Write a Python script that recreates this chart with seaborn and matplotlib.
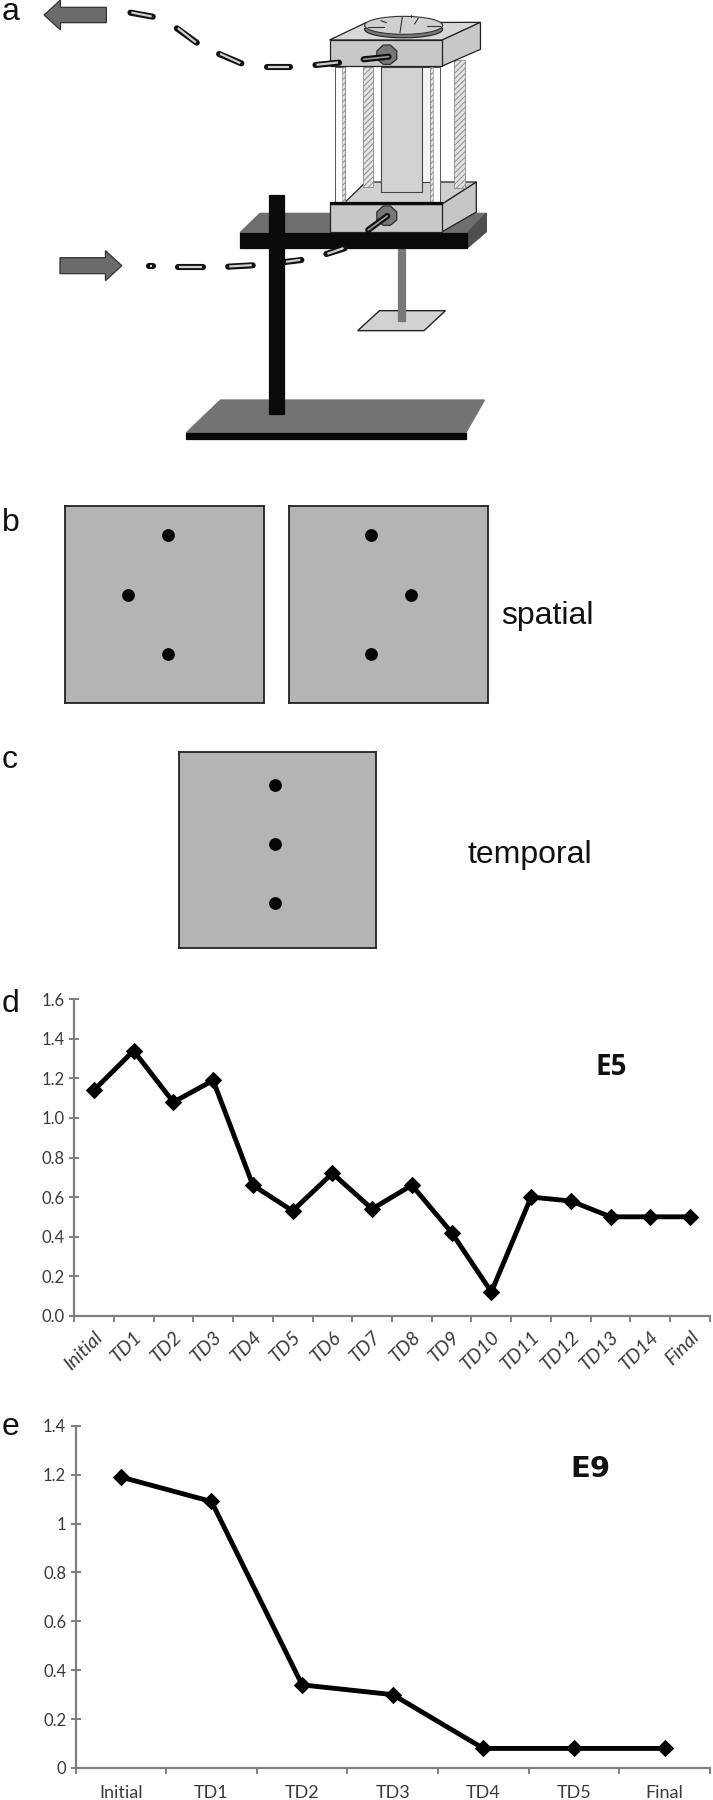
import numpy as np
import pandas as pd
import matplotlib
matplotlib.use("Agg")
import matplotlib.pyplot as plt
from matplotlib.patches import Polygon, Rectangle, Ellipse
import seaborn as sns

sns.set_theme(style="white")

# ---- data ----
cats_d = ["Initial", "TD1", "TD2", "TD3", "TD4", "TD5", "TD6", "TD7", "TD8", "TD9",
          "TD10", "TD11", "TD12", "TD13", "TD14", "Final"]
vals_d = [1.14, 1.34, 1.08, 1.19, 0.66, 0.53, 0.72, 0.54, 0.66, 0.42,
          0.12, 0.60, 0.58, 0.50, 0.50, 0.50]
yticks_d = [0.0, 0.2, 0.4, 0.6, 0.8, 1.0, 1.2, 1.4, 1.6]
ylabels_d = ["0.0", "0.2", "0.4", "0.6", "0.8", "1.0", "1.2", "1.4", "1.6"]

cats_e = ["Initial", "TD1", "TD2", "TD3", "TD4", "TD5", "Final"]
vals_e = [1.19, 1.09, 0.34, 0.30, 0.08, 0.08, 0.08]
yticks_e = [0, 0.2, 0.4, 0.6, 0.8, 1.0, 1.2, 1.4]
ylabels_e = ["0", "0.2", "0.4", "0.6", "0.8", "1", "1.2", "1.4"]

spatial1_x = [0.517, 0.317, 0.517]
spatial1_y = [0.85, 0.548, 0.25]
spatial2_x = [0.413, 0.614, 0.413]
spatial2_y = [0.85, 0.548, 0.25]
temporal_x = [0.487, 0.487, 0.487]
temporal_y = [0.83, 0.53, 0.23]

W, H = 713, 1800
fig = plt.figure(figsize=(W / 100, H / 100), dpi=100, facecolor="white")
SANS = "Liberation Sans"
CHART = "Lato"
GREY = "#7f7f7f"
TXT = "#3a3a3a"


def axbox(x0, y0, x1, y1, **kw):
    return fig.add_axes([x0 / W, 1 - y1 / H, (x1 - x0) / W, (y1 - y0) / H], **kw)


# ---- overlay for panel a (schematic) and panel letters ----
ov = axbox(0, 0, W, H)
ov.set_xlim(0, W)
ov.set_ylim(H, 0)
ov.axis("off")
ov.patch.set_alpha(0)


def Z(pts):
    return [(x / 2.2, y / 3) for x, y in pts]


def poly(pts, fc, ec="#222222", lw=0.9, z=2, **kw):
    ov.add_patch(Polygon(Z(pts), closed=True, facecolor=fc, edgecolor=ec, linewidth=lw, zorder=z, **kw))


def rect(x0, y0, x1, y1, fc, ec="#222222", lw=0.9, z=2, **kw):
    poly([(x0, y0), (x1, y0), (x1, y1), (x0, y1)], fc, ec, lw, z, **kw)


def dash(x0, y0, x1, y1, z=6):
    (a, b), (c, d) = Z([(x0, y0), (x1, y1)])
    ov.plot([a, c], [b, d], color="#111111", lw=4.4, solid_capstyle="round", zorder=z)
    ov.plot([a + 1, c - 1], [b - 0.2, d - 0.2], color="#d0d0d0", lw=1.6, solid_capstyle="butt", zorder=z + 0.1)


plt.rcParams["hatch.linewidth"] = 0.7
# base
poly([(410, 1298), (485, 1200), (1066, 1200), (1025, 1298)], "#737373", "#737373", z=1)
rect(410, 1298, 1025, 1318, "#0a0a0a", "#0a0a0a", z=1)
# hanging rod and plate
poly([(787, 992), (835, 932), (980, 932), (933, 992)], "#d2d2d2", "#222222", lw=1.0, z=1)
rect(876, 748, 890, 962, "#777777", "#777777", z=1.5)
# table
poly([(528, 698), (572, 640), (1070, 640), (1028, 698)], "#6e6e6e", "#6e6e6e", z=2)
poly([(1028, 698), (1070, 640), (1070, 695), (1028, 744)], "#4f4f4f", "#4f4f4f", z=2)
rect(528, 698, 1028, 744, "#0a0a0a", "#0a0a0a", z=3)
# lower block
poly([(758, 608), (805, 546), (1048, 546), (973, 612)], "#d0d0d0", z=2.5)
poly([(973, 612), (1048, 546), (1048, 636), (973, 695)], "#c6c6c6", z=2.5)
rect(725, 612, 973, 695, "#c8c8c8", z=3.2)
# rods back
for x0, x1, y0, y1 in [(798, 820, 200, 562), (998, 1023, 180, 565)]:
    rect(x0, y0, x1, y1, "#e4e4e4", "#8c8c8c", 0.6, z=2.7, hatch="//////")
rect(928, 200, 945, 545, "#f4f4f4", "#333333", 0.7, z=2.7)
rect(838, 200, 928, 575, "#d2d2d2", "#444444", 0.8, z=2.8)
# rods front
for x0, x1, hx0, hx1 in [(738, 760, 752, 760), (945, 967, 945, 953)]:
    rect(x0, 200, x1, 608, "#ffffff", "#555555", 0.7, z=3)
    rect(hx0, 200, hx1, 608, "#e4e4e4", "#8c8c8c", 0.4, z=3.05, hatch="//////")
rect(725, 606, 973, 612, "#0a0a0a", "#0a0a0a", z=3.2)
# upper block
poly([(725, 120), (805, 68), (1057, 67), (973, 120)], "#d8d8d8", z=4)
poly([(973, 120), (1057, 67), (1057, 148), (973, 198)], "#c8c8c8", z=4)
rect(725, 120, 973, 198, "#c8c8c8", z=4)
# dial
cx, cy = Z([(888, 88)])[0]
ov.add_patch(Ellipse((cx, cy), 78, 17, facecolor="#777777", edgecolor="#222222", lw=0.8, zorder=4.2))
cx, cy = Z([(888, 76)])[0]
ov.add_patch(Ellipse((cx, cy), 78, 18, facecolor="#d0d0d0", edgecolor="#333333", lw=0.8, zorder=4.3))
for pts in [[(810, 80), (845, 80)], [(838, 62), (850, 68)], [(885, 52), (880, 98)], [(920, 55), (912, 72)],
            [(940, 78), (968, 78)], [(905, 45), (905, 50)]]:
    ov.plot(*zip(*Z(pts)), color="#333333", lw=0.8, zorder=4.4)
# knobs
for kx, ky, pts in [(851, 165, [(800, 178), (855, 170)]), (851, 648, [(810, 690), (852, 648)])]:
    hexa = [(kx - 22, ky - 12), (kx - 8, ky - 30), (kx + 8, ky - 30), (kx + 22, ky - 12),
            (kx + 22, ky + 12), (kx + 8, ky + 28), (kx - 8, ky + 28), (kx - 22, ky + 12)]
    poly(hexa, "#777777", "#222222", 0.8, z=4.5)
    ov.plot(*zip(*Z(pts)), color="#111111", lw=4.4, zorder=4.6)
    ov.plot(*zip(*Z(pts)), color="#999999", lw=1.2, zorder=4.7)
# stand pole
rect(591, 585, 625, 1243, "#0a0a0a", "#0a0a0a", z=5)
# arrows
poly([(97, 45), (133, 0), (133, 22), (234, 22), (234, 68), (133, 68), (133, 90)], "#6b6b6b", "#333333", 0.9, z=5)
poly([(132, 773), (232, 773), (232, 752), (268, 797), (232, 842), (232, 821), (132, 821)], "#6b6b6b", "#333333", 0.9, z=5)
# beam dashes
for d in [(287, 38, 336, 50), (389, 85, 433, 128), (482, 162, 531, 190), (587, 202, 638, 202),
          (694, 195, 746, 188), (392, 801, 446, 801), (502, 800, 556, 796), (627, 786, 663, 780),
          (718, 762, 758, 745), (327, 798, 336, 798)]:
    dash(*d)

# panel letters and captions
for s, x, y in [("a", 2, 20), ("b", 2, 531), ("c", 2, 768), ("d", 2, 1012), ("e", 2, 1435)]:
    ov.text(x, y, s, family=SANS, fontsize=23, color="#111111", va="baseline", ha="left", zorder=10)
ov.text(501, 624, "spatial", family=SANS, fontsize=23, color="#111111", va="baseline", zorder=10)
ov.text(468, 863, "temporal", family=SANS, fontsize=23, color="#111111", va="baseline", zorder=10)


# ---- stimulus boxes (b, c) ----
def stim(x0, y0, x1, y1, xs, ys):
    ax = axbox(x0, y0, x1, y1)
    ax.set_facecolor("#b4b4b4")
    sns.scatterplot(x=xs, y=ys, ax=ax, color="#050505", s=85, linewidth=0, legend=False)
    ax.set_xlim(0, 1)
    ax.set_ylim(0, 1)
    ax.set(xticks=[], yticks=[], xlabel="", ylabel="")
    for sp in ax.spines.values():
        sp.set_visible(True)
        sp.set_color("#222222")
        sp.set_linewidth(1.3)


stim(64.5, 505.7, 264, 703, spatial1_x, spatial1_y)
stim(288.6, 505.7, 488, 703, spatial2_x, spatial2_y)
stim(179, 751.7, 376, 948, temporal_x, temporal_y)


# ---- line charts (d, e) ----
def chart(box, cats, vals, yticks, ylabels, ymax, rot):
    ax = axbox(*box)
    ax.patch.set_alpha(0)
    df = pd.DataFrame({"cat": cats, "val": vals})
    sns.lineplot(data=df, x="cat", y="val", ax=ax, sort=False, color="black", linewidth=3.5,
                 marker="D", markersize=8.5, markeredgecolor="black", errorbar=None)
    n = len(cats)
    ax.set_xlim(-0.5, n - 0.5)
    ax.set_ylim(0, ymax)
    ax.set_xlabel("")
    ax.set_ylabel("")
    ax.set_yticks(yticks)
    ax.set_yticklabels(ylabels, family=CHART, fontsize=12, color=TXT)
    ax.set_xticks(range(n))
    ax.set_xticks(np.arange(n + 1) - 0.5, minor=True)
    ax.tick_params(axis="x", which="major", length=0, pad=9 if rot else 12)
    ax.tick_params(axis="x", which="minor", bottom=True, length=4.5, width=1.4, color=GREY, direction="out")
    ax.tick_params(axis="y", which="major", left=True, length=7.5, width=1.4, color=GREY, direction="inout", pad=3)
    if rot:
        ax.set_xticklabels(cats, family=CHART, style="italic", fontsize=14, color=TXT,
                           rotation=rot, ha="right", rotation_mode="anchor")
    else:
        ax.set_xticklabels(cats, family=CHART, fontsize=13, color=TXT)
    for s in ["top", "right"]:
        ax.spines[s].set_visible(False)
    for s in ["left", "bottom"]:
        ax.spines[s].set_visible(True)
        ax.spines[s].set_color(GREY)
        ax.spines[s].set_linewidth(1.6)
    for a in ax.get_lines():
        a.set_clip_on(False)
    return ax


chart((74, 999.3, 710, 1315.7), cats_d, vals_d, yticks_d, ylabels_d, 1.6, 45)
chart((75.5, 1425.7, 710, 1768), cats_e, vals_e, yticks_e, ylabels_e, 1.4, 0)

ov.text(596, 1075, "E5", family="Open Sans", fontweight="bold", fontsize=20, color="#111111", va="baseline", zorder=10)
ov.text(570, 1477, "E9", family="DejaVu Sans", fontweight="bold", fontsize=21, color="#111111", va="baseline", zorder=10)

fig.savefig("out.png", dpi=100)
